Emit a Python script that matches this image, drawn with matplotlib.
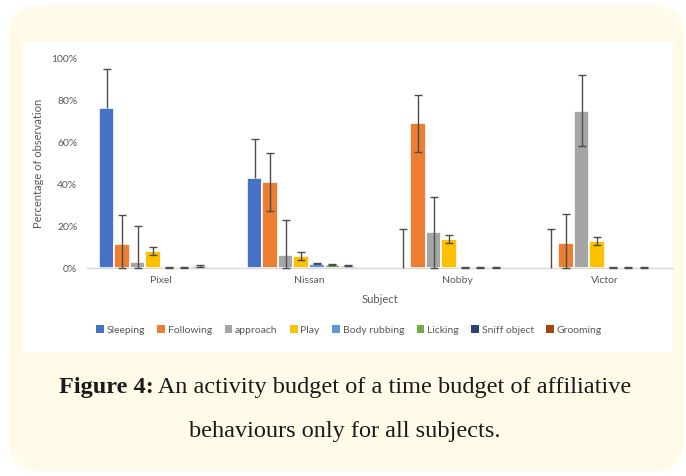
import numpy as np
import matplotlib.pyplot as plt
from matplotlib.patches import FancyBboxPatch, Rectangle, Patch

plt.rcParams['font.family'] = ['Lato', 'DejaVu Sans']

# data (percent of observation)
subjects = ['Pixel', 'Nissan', 'Nobby', 'Victor']
behaviours = ['Sleeping', 'Following', 'approach', 'Play', 'Body rubbing',
              'Licking', 'Sniff object', 'Grooming']
sleeping = [76.7, 43.2, 0.0, 0.0]
following = [11.5, 41.0, 69.2, 12.1]
approach = [3.0, 6.2, 17.2, 75.3]
play = [8.3, 5.7, 13.9, 12.9]
body_rubbing = [0.2, 2.1, 0.0, 0.0]
licking = [0.4, 1.6, 0.0, 0.0]
sniff_object = [1.0, 1.1, 0.0, 0.0]
grooming = [0.0, 0.6, 0.0, 0.0]
# standard error per series (Sleeping drawn plus only, Grooming without bars)
std_err = [18.7, 13.8, 17.0, 1.9, 0.4, 0.3, 0.3, None]
plus_only = [True, False, False, False, False, False, False, False]

colors = ['#4472C4', '#ED7D31', '#A5A5A5', '#FFC000', '#5B9BD5',
          '#70AD47', '#264478', '#9E480E']
series = [sleeping, following, approach, play, body_rubbing, licking,
          sniff_object, grooming]

W, H = 686, 476
fig = plt.figure(figsize=(W / 100, H / 100), dpi=100, facecolor='white')

# rounded pale yellow card and white chart panel
card = FancyBboxPatch((9 / W, 5 / H), 675 / W, 466 / H,
                      boxstyle='round,pad=0,rounding_size=0.045',
                      transform=fig.transFigure, facecolor='#FFFBE8',
                      edgecolor='none', mutation_aspect=W / H, zorder=-3)
fig.patches.append(card)
panel = Rectangle((23 / W, (H - 352) / H), 650 / W, 310 / H,
                  transform=fig.transFigure, facecolor='white',
                  edgecolor='none', zorder=-2)
fig.patches.append(panel)

ax = fig.add_axes([87 / W, (H - 268) / H, 586 / W, 209 / H])
ax.set_facecolor('none')

n = len(behaviours)
pitch = 0.105
x = np.arange(len(subjects))
for i, (vals, c) in enumerate(zip(series, colors)):
    pos = x + (i - (n - 1) / 2) * pitch
    ax.bar(pos, vals, width=pitch, color=c, edgecolor='white', linewidth=1.2,
           zorder=2)
    if std_err[i] is None:
        continue
    vals = np.array(vals)
    upper = np.full(len(vals), std_err[i])
    lower = np.zeros(len(vals)) if plus_only[i] else np.minimum(std_err[i], vals)
    eb = ax.errorbar(pos, vals, yerr=[lower, upper], fmt='none', ecolor='#4D4D4D',
                     elinewidth=1, capsize=2.6, capthick=1, zorder=3, clip_on=False)
    if plus_only[i]:
        eb[1][0].remove()  # drop the lower caps

ax.set_xlim(-0.5, 3.46)
ax.set_ylim(0, 100)
for side in ['top', 'right', 'left']:
    ax.spines[side].set_visible(False)
ax.spines['bottom'].set_color('#D9D9D9')
ax.spines['bottom'].set_linewidth(1)
ax.tick_params(length=0, colors='#595959', labelsize=7.5)
ax.tick_params(axis='y', pad=7)
ax.tick_params(axis='x', pad=6)
ax.set_yticks(range(0, 101, 20))
ax.set_yticklabels([f'{v}%' for v in range(0, 101, 20)])
ax.set_xticks(x)
ax.set_xticklabels(subjects)
ax.set_xlabel('Subject', fontsize=8, color='#595959', labelpad=6)
ax.set_ylabel('Percentage of observation', fontsize=8, color='#595959',
              labelpad=5)

handles = [Patch(facecolor=c, edgecolor='none') for c in colors]
fig.legend(handles, behaviours, loc='center', ncol=8, frameon=False,
           bbox_to_anchor=(349 / W, 1 - 330 / H), fontsize=7.5,
           handlelength=0.75, handleheight=0.75, handletextpad=0.25,
           columnspacing=1.2, labelcolor='#595959')

# caption: bold lead-in followed by regular text, centred together
cap_font = dict(fontsize=17.5, family='Liberation Serif', color='#1a1a1a',
                va='center')
renderer = fig.canvas.get_renderer()
t1 = fig.text(0, 1 - 387 / H, 'Figure 4:', weight='bold', ha='left', **cap_font)
t2 = fig.text(0, 1 - 387 / H, ' An activity budget of a time budget of affiliative',
              ha='left', **cap_font)
w1 = t1.get_window_extent(renderer).width
w2 = t2.get_window_extent(renderer).width
x0 = 345 - (w1 + w2) / 2
t1.set_x(x0 / W)
t2.set_x((x0 + w1) / W)
fig.text(345 / W, 1 - 432 / H, 'behaviours only for all subjects.',
         ha='center', **cap_font)

fig.savefig('out.png', dpi=100, facecolor='white')
